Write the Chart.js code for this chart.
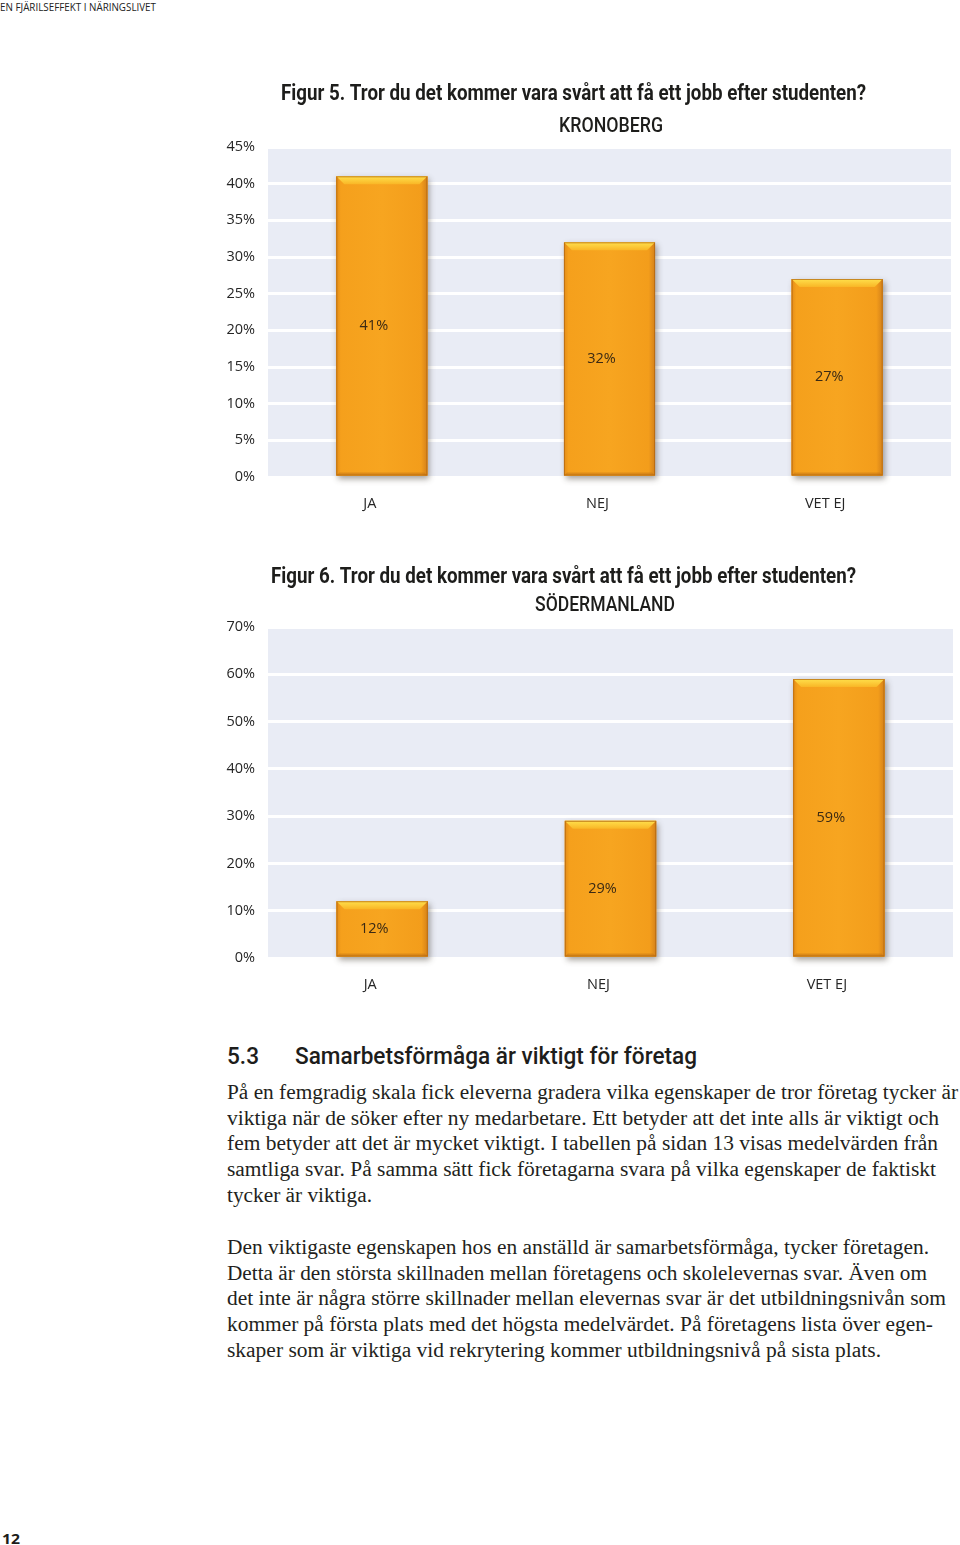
<!DOCTYPE html>
<html><head><meta charset="utf-8">
<script src="https://cdn.jsdelivr.net/npm/chart.js@4.4.1/dist/chart.umd.min.js"></script>
<style>
html,body{margin:0;padding:0;background:#fff;}
body{width:960px;height:1545px;position:relative;overflow:hidden;font-family:"Liberation Serif",serif;color:#231f20;}
.t{position:absolute;white-space:nowrap;transform-origin:0 50%;}
.p{font-size:20px;line-height:26px;left:227px;}
.cw{position:absolute;left:220px;width:740px;height:470px;}
</style></head><body>
<div class="t" data-w="156" style="left:0;top:0;font:11px 'Open Sans',sans-serif;line-height:14px;color:#222;">EN FJÄRILSEFFEKT I NÄRINGSLIVET</div>

<div class="cw" style="top:60px;"><canvas id="c1" width="740" height="470"></canvas></div>
<div class="cw" style="top:540px;"><canvas id="c2" width="740" height="470"></canvas></div>

<div class="t" data-w="32" style="left:227px;top:1041px;font:500 24px Roboto,sans-serif;line-height:30px;color:#1d1d1b;">5.3</div>
<div class="t" data-w="402" style="left:295px;top:1041px;font:500 24px Roboto,sans-serif;line-height:30px;color:#1d1d1b;">Samarbetsförmåga är viktigt för företag</div>

<div class="t p" data-w="731" style="top:1079px;">På en femgradig skala fick eleverna gradera vilka egenskaper de tror företag tycker är</div>
<div class="t p" data-w="712" style="top:1105px;">viktiga när de söker efter ny medarbetare. Ett betyder att det inte alls är viktigt och</div>
<div class="t p" data-w="711" style="top:1130px;">fem betyder att det är mycket viktigt. I tabellen på sidan 13 visas medelvärden från</div>
<div class="t p" data-w="709" style="top:1156px;">samtliga svar. På samma sätt fick företagarna svara på vilka egenskaper de faktiskt</div>
<div class="t p" data-w="145" style="top:1182px;">tycker är viktiga.</div>

<div class="t p" data-w="702" style="top:1234px;">Den viktigaste egenskapen hos en anställd är samarbetsförmåga, tycker företagen.</div>
<div class="t p" data-w="700" style="top:1260px;">Detta är den största skillnaden mellan företagens och skolelevernas svar. Även om</div>
<div class="t p" data-w="719" style="top:1285px;">det inte är några större skillnader mellan elevernas svar är det utbildningsnivån som</div>
<div class="t p" data-w="706" style="top:1311px;">kommer på första plats med det högsta medelvärdet. På företagens lista över egen-</div>
<div class="t p" data-w="654" style="top:1337px;">skaper som är viktiga vid rekrytering kommer utbildningsnivå på sista plats.</div>

<div class="t" data-w="18" style="left:2px;top:1528px;font:700 15px 'Open Sans',sans-serif;line-height:20px;color:#1d1d1b;">12</div>

<script>
// ---- data ----
const categories = ['JA', 'NEJ', 'VET EJ'];
const kronobergValues = [41, 32, 27];
const sodermanlandValues = [12, 29, 59];
const kronobergTicks = [0, 5, 10, 15, 20, 25, 30, 35, 40, 45];
const sodermanlandTicks = [0, 10, 20, 30, 40, 50, 60, 70];
const fig5Title = 'Figur 5. Tror du det kommer vara svårt att få ett jobb efter studenten?';
const fig6Title = 'Figur 6. Tror du det kommer vara svårt att få ett jobb efter studenten?';
const kronobergName = 'KRONOBERG';
const sodermanlandName = 'SÖDERMANLAND';

// scale HTML text lines to target widths
document.querySelectorAll('[data-w]').forEach(el => {
  const w = el.getBoundingClientRect().width;
  el.style.transform = 'scaleX(' + (parseFloat(el.dataset.w) / w) + ')';
});

Chart.defaults.font.family = '"Open Sans", sans-serif';
Chart.defaults.color = '#262626';

function fitText(ctx, text, left, cy, w, font, color) {
  ctx.save();
  ctx.font = font;
  ctx.fillStyle = color;
  ctx.textAlign = 'left';
  ctx.textBaseline = 'middle';
  const m = ctx.measureText(text).width;
  ctx.translate(left, cy);
  ctx.scale(w / m, 1);
  ctx.fillText(text, 0, 0);
  ctx.restore();
}

function makeChart(id, values, ticks, o) {
  const bgPlugin = {
    id: 'bg',
    beforeDraw(chart) {
      const {ctx, chartArea: a} = chart;
      ctx.save();
      ctx.fillStyle = '#E9ECF5';
      ctx.fillRect(a.left, a.top, a.right - a.left, a.bottom - a.top);
      ctx.restore();
    },
    beforeDatasetsDraw(chart) {
      const ctx = chart.ctx;
      chart.getDatasetMeta(0).data.forEach(el => {
        const {x, y, base, width} = el.getProps(['x', 'y', 'base', 'width'], true);
        ctx.save();
        ctx.shadowColor = 'rgba(60,50,40,0.45)';
        ctx.shadowBlur = 6;
        ctx.shadowOffsetX = 2;
        ctx.shadowOffsetY = 3;
        ctx.fillStyle = '#F5A01C';
        ctx.fillRect(x - width / 2, y, width, base - y);
        ctx.restore();
      });
    },
    afterDatasetsDraw(chart) {
      const ctx = chart.ctx;
      const meta = chart.getDatasetMeta(0);
      meta.data.forEach((el, i) => {
        const {x, y, base, width} = el.getProps(['x', 'y', 'base', 'width'], true);
        const l = x - width / 2, r = x + width / 2, t = y, b = base;
        ctx.save();
        const g = ctx.createLinearGradient(l, 0, r, 0);
        g.addColorStop(0, '#E38C17');
        g.addColorStop(0.05, '#F5A01C');
        g.addColorStop(0.5, '#F7A520');
        g.addColorStop(0.93, '#F39D1B');
        g.addColorStop(1, '#D4811A');
        ctx.fillStyle = g;
        ctx.fillRect(l, t, r - l, b - t);
        const bv = 8;
        const gt = ctx.createLinearGradient(0, t, 0, t + bv);
        gt.addColorStop(0, '#FFE04C');
        gt.addColorStop(1, '#F9B626');
        ctx.fillStyle = gt;
        ctx.beginPath();
        ctx.moveTo(l, t); ctx.lineTo(r, t); ctx.lineTo(r - bv, t + bv); ctx.lineTo(l + bv, t + bv);
        ctx.closePath(); ctx.fill();
        ctx.fillStyle = 'rgba(190,110,20,0.45)';
        ctx.beginPath();
        ctx.moveTo(l, b); ctx.lineTo(r, b); ctx.lineTo(r - 3, b - 3); ctx.lineTo(l + 3, b - 3);
        ctx.closePath(); ctx.fill();
        ctx.strokeStyle = 'rgba(175,100,15,0.7)';
        ctx.lineWidth = 1;
        ctx.strokeRect(l + 0.5, t + 0.5, r - l - 1, b - t - 1);
        ctx.fillStyle = '#3b2a14';
        ctx.font = '14.5px "Open Sans", sans-serif';
        ctx.textAlign = 'center';
        ctx.textBaseline = 'middle';
        ctx.fillText(values[i] + '%', x - 8, (t + b) / 2);
        ctx.restore();
      });
    },
    afterDraw(chart) {
      const ctx = chart.ctx;
      fitText(ctx, o.title, o.titleX, o.titleY, o.titleW, '700 22px Roboto, sans-serif', '#1d1d1b');
      fitText(ctx, o.region, o.regionCX - o.regionW / 2, o.regionY, o.regionW, '500 20px Roboto, sans-serif', '#1d1d1b');
    }
  };

  return new Chart(document.getElementById(id), {
    type: 'bar',
    data: {
      labels: categories,
      datasets: [{
        data: values,
        backgroundColor: '#F5A01C',
        borderWidth: 0,
        barPercentage: 0.4,
        categoryPercentage: 1.0
      }]
    },
    options: {
      responsive: false,
      animation: false,
      layout: {padding: {top: 87, right: o.padRight, left: 0, bottom: 0}},
      plugins: {legend: {display: false}, tooltip: {enabled: false}, title: {display: false}},
      scales: {
        x: {
          grid: {display: false, drawTicks: false},
          border: {display: false},
          ticks: {padding: 18, labelOffset: -12, color: '#262626', font: {size: 14.5}},
          afterFit(s) { s.height = o.xHeight; }
        },
        y: {
          min: ticks[0],
          max: ticks[ticks.length - 1],
          grid: {color: '#FFFFFF', lineWidth: 3, drawTicks: false},
          border: {display: false},
          afterBuildTicks(s) { s.ticks = ticks.map(v => ({value: v})); },
          ticks: {padding: 13, color: '#262626', font: {size: 14.5}, callback: v => v + '%'},
          afterFit(s) { s.width = 48; }
        }
      }
    },
    plugins: [bgPlugin]
  });
}

makeChart('c1', kronobergValues, kronobergTicks, {
  title: fig5Title, region: kronobergName,
  titleX: 61, titleY: 34, titleW: 585,
  regionCX: 391, regionY: 67, regionW: 104,
  padRight: 9, xHeight: 53
});
makeChart('c2', sodermanlandValues, sodermanlandTicks, {
  title: fig6Title, region: sodermanlandName,
  titleX: 51, titleY: 37, titleW: 585,
  regionCX: 385, regionY: 66, regionW: 140,
  padRight: 7, xHeight: 52
});
</script>
</body></html>
